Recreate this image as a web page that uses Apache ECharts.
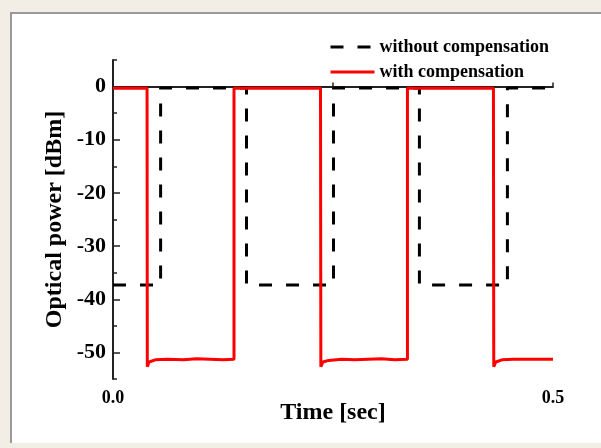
<!DOCTYPE html>
<html>
<head>
<meta charset="utf-8">
<script src="https://cdn.jsdelivr.net/npm/echarts@6/dist/echarts.min.js"></script>
<style>html,body{margin:0;padding:0;background:#f2ede5;}#c{width:601px;height:448px;}</style>
</head>
<body>
<div id="c"></div>
<script>
// ---- data ----
const seriesNames = ['without compensation', 'with compensation'];
const blackTime = [0, 0.0541, 0.0541, 0.1517, 0.1517, 0.2506, 0.2506, 0.3482, 0.3482, 0.4482, 0.4482, 0.5];
const blackPower = [-37.3, -37.3, -0.25, -0.25, -37.3, -37.3, -0.25, -0.25, -37.3, -37.3, -0.25, -0.25];
const redTime = [0, 0.0387, 0.0390, 0.0400, 0.0410, 0.0480, 0.0620, 0.0800, 0.0950, 0.1100, 0.1250, 0.1375,
  0.1375, 0.2358, 0.2362, 0.2372, 0.2385, 0.2450, 0.2600, 0.2750, 0.2900, 0.3050, 0.3200, 0.3346,
  0.3346, 0.4323, 0.4327, 0.4337, 0.4350, 0.4420, 0.4550, 0.4700, 0.4850, 0.5000];
const redPower = [-0.3, -0.3, -52.7, -52.7, -51.8, -51.4, -51.3, -51.4, -51.2, -51.3, -51.4, -51.3,
  -0.3, -0.3, -52.7, -52.7, -51.8, -51.5, -51.3, -51.4, -51.3, -51.2, -51.4, -51.3,
  -0.3, -0.3, -52.7, -52.7, -51.8, -51.4, -51.3, -51.3, -51.3, -51.3];
const xLabelValues = [0, 0.5];
const xTickValues = [0, 0.25, 0.5];
const yMajorValues = [0, -10, -20, -30, -40, -50];
const yMinorValues = [5, -5, -15, -25, -35, -45, -55];

const zip = (a, b) => a.map((v, i) => [v, b[i]]);
const FONT = '"Liberation Serif", "Times New Roman", serif';

const chart = echarts.init(document.getElementById('c'));
chart.setOption({
  animation: false,
  backgroundColor: '#f2ede5',
  graphic: [
    { type: 'rect', z: -10, shape: { x: 10, y: 12, width: 591, height: 431 }, style: { fill: '#ffffff' } },
    { type: 'line', z: -9, shape: { x1: 11, y1: 12, x2: 11, y2: 443 }, style: { stroke: '#999999', lineWidth: 2 } },
    { type: 'line', z: -9, shape: { x1: 10, y1: 13, x2: 601, y2: 13 }, style: { stroke: '#999999', lineWidth: 2 } }
  ],
  grid: { left: 113, right: 48, top: 60, bottom: 69, containLabel: false },
  legend: {
    orient: 'vertical', left: 324, top: 33, itemWidth: 44, itemHeight: 14, itemGap: 7,
    itemStyle: { opacity: 0 },
    lineStyle: { width: 3 },
    textStyle: { fontFamily: FONT, fontWeight: 'bold', fontSize: 18, color: '#000' },
    data: seriesNames
  },
  xAxis: {
    type: 'value', min: 0, max: 0.5,
    name: 'Time [sec]', nameLocation: 'middle', nameGap: 22, nameMoveOverlap: false,
    nameTextStyle: { fontFamily: FONT, fontWeight: 'bold', fontSize: 24, color: '#000' },
    axisLine: { show: true, lineStyle: { color: '#222', width: 2 } },
    axisTick: { show: true, inside: true, length: 4, customValues: xTickValues, lineStyle: { color: '#222', width: 1.5 } },
    axisLabel: { customValues: xLabelValues, formatter: v => v.toFixed(1), margin: 10,
      fontFamily: FONT, fontWeight: 'bold', fontSize: 18, color: '#000' },
    splitLine: { show: false }
  },
  yAxis: [{
    type: 'value', min: -55, max: 5,
    name: 'Optical power [dBm]', nameLocation: 'middle', nameGap: 46, nameMoveOverlap: false,
    nameTextStyle: { fontFamily: FONT, fontWeight: 'bold', fontSize: 24, color: '#000' },
    axisLine: { show: true, lineStyle: { color: '#222', width: 2 } },
    axisTick: { show: true, inside: true, length: 7, customValues: yMajorValues, lineStyle: { color: '#222', width: 1.5 } },
    axisLabel: { customValues: yMajorValues, formatter: v => String(v), margin: 7,
      fontFamily: FONT, fontWeight: 'bold', fontSize: 22, color: '#000' },
    splitLine: { show: false }
  }, {
    type: 'value', min: -55, max: 5, position: 'left',
    axisLine: { show: false },
    axisTick: { show: true, inside: true, length: 4, customValues: yMinorValues, lineStyle: { color: '#222', width: 1.5 } },
    axisLabel: { show: false },
    splitLine: { show: false }
  }],
  series: [{
    name: seriesNames[0], type: 'line', showSymbol: false, symbol: 'none',
    data: zip(blackTime, blackPower),
    lineStyle: { color: '#000', width: 3, type: [13, 14], cap: 'butt' },
    itemStyle: { color: '#000' }
  }, {
    name: seriesNames[1], type: 'line', showSymbol: false, symbol: 'none',
    data: zip(redTime, redPower),
    lineStyle: { color: '#ff0000', width: 3 },
    itemStyle: { color: '#ff0000' }
  }]
});
</script>
</body>
</html>
